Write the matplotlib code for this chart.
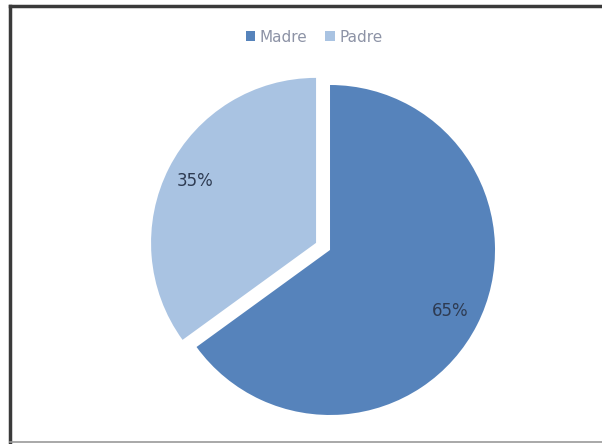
import matplotlib
matplotlib.use("Agg")
import matplotlib.pyplot as plt
from matplotlib.lines import Line2D
from matplotlib.patches import Patch

labels = ["Madre", "Padre"]
values = [65, 35]
colors = ["#5683bb", "#a9c3e2"]
explode = [0, 0.095]

W, H = 602, 444
fig = plt.figure(figsize=(W / 100, H / 100), dpi=100)
fig.patch.set_facecolor("white")

L = 1.15
ax = fig.add_axes([0.233, 0.0096, 0.6304, 0.8547])
wedges, texts, autotexts = ax.pie(values, colors=colors, explode=explode, startangle=90,
                                  counterclock=False, autopct="%d%%", pctdistance=0.82,
                                  textprops=dict(color="#2e3b52", fontsize=12),
                                  wedgeprops=dict(linewidth=0))
ax.set_xlim(-L, L)
ax.set_ylim(-L, L)
ax.set_aspect("equal")
ax.axis("off")

def fx(x):
    return x / W

def fy(y):
    return 1 - y / H

# frame (top and left dark, bottom faint)
fig.add_artist(Line2D([fx(10), fx(605)], [fy(6), fy(6)], transform=fig.transFigure,
                      color="#3a3a3a", linewidth=2.5))
fig.add_artist(Line2D([fx(10), fx(10)], [fy(6), fy(446)], transform=fig.transFigure,
                      color="#3a3a3a", linewidth=2.5))
fig.add_artist(Line2D([fx(10), fx(605)], [fy(442), fy(442)], transform=fig.transFigure,
                      color="#9a9a9a", linewidth=1.2))

handles = [Patch(facecolor=c, edgecolor="none") for c in colors]
fig.legend(handles, labels, loc="center", bbox_to_anchor=(fx(314), fy(37)), ncol=2,
           frameon=False, fontsize=11, handlelength=0.6, handleheight=0.6,
           handletextpad=0.3, columnspacing=1.2, labelcolor="#8d93a6")

fig.savefig("out.png", dpi=100)
